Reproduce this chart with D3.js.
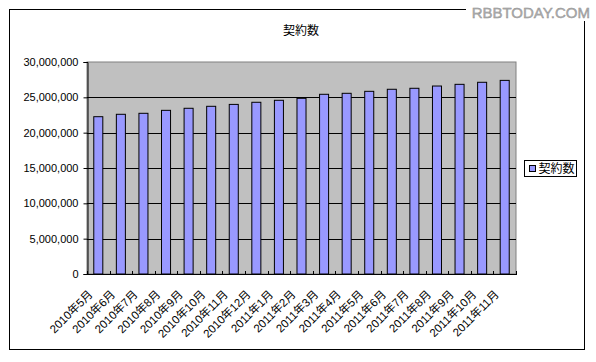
<!DOCTYPE html>
<html>
<head>
<meta charset="utf-8">
<script src="https://cdn.jsdelivr.net/npm/d3@7"></script>
<style>
  body { margin: 0; background: #fff; }
  text { font-family: Arial, "Liberation Sans", "Noto Sans CJK JP", sans-serif; }
</style>
</head>
<body>
<div id="chart"></div>
<script>
// data
const months = [
  '2010年5月', '2010年6月', '2010年7月', '2010年8月', '2010年9月', '2010年10月',
  '2010年11月', '2010年12月', '2011年1月', '2011年2月', '2011年3月', '2011年4月',
  '2011年5月', '2011年6月', '2011年7月', '2011年8月', '2011年9月', '2011年10月', '2011年11月'
];
const contracts = [
  22260000, 22600000, 22740000, 23160000, 23450000, 23730000,
  24000000, 24300000, 24580000, 24860000, 25430000, 25570000,
  25850000, 26140000, 26280000, 26600000, 26840000, 27130000, 27400000
];
const yTicks = [0, 5000000, 10000000, 15000000, 20000000, 25000000, 30000000];
const seriesName = '契約数';

const width = 596;
const height = 362;
const plot = { left: 87, right: 516, top: 62, bottom: 274 };

const svg = d3.select('#chart').append('svg')
  .attr('width', width)
  .attr('height', height);

// outer frame
svg.append('rect')
  .attr('x', 9.5).attr('y', 9.5)
  .attr('width', 575).attr('height', 340)
  .attr('fill', '#fff')
  .attr('stroke', '#000');

const x = d3.scaleBand()
  .domain(months)
  .range([plot.left, plot.right])
  .paddingInner(0.6)
  .paddingOuter(0.3);

const y = d3.scaleLinear()
  .domain([0, 30000000])
  .range([plot.bottom, plot.top]);

// plot area
svg.append('rect')
  .attr('x', plot.left).attr('y', plot.top)
  .attr('width', plot.right - plot.left).attr('height', plot.bottom - plot.top)
  .attr('fill', '#c0c0c0')
  .attr('stroke', '#808080');

// gridlines
svg.append('g')
  .selectAll('line')
  .data(yTicks.filter(d => d > 0 && d < 30000000))
  .enter().append('line')
  .attr('x1', plot.left).attr('x2', plot.right)
  .attr('y1', d => Math.round(y(d)) + 0.5).attr('y2', d => Math.round(y(d)) + 0.5)
  .attr('stroke', '#000');

// bars
svg.append('g')
  .selectAll('rect')
  .data(contracts)
  .enter().append('rect')
  .attr('x', (d, i) => x(months[i]))
  .attr('y', d => y(d))
  .attr('width', x.bandwidth())
  .attr('height', d => y(0) - y(d))
  .attr('fill', '#9999ff')
  .attr('stroke', '#000')
  .attr('stroke-width', 1);

// y axis
const yAxis = d3.axisLeft(y)
  .tickValues(yTicks)
  .tickSize(4)
  .tickPadding(5)
  .tickFormat(d3.format(',d'));

svg.append('g')
  .attr('transform', `translate(${plot.left + 0.5},0)`)
  .call(yAxis)
  .call(g => g.select('.domain').attr('stroke', '#000'))
  .call(g => g.selectAll('text').attr('font-size', 11).attr('fill', '#000')
    .attr('font-family', 'Arial, "Liberation Sans", sans-serif'));

// x axis line + ticks between categories
const boundaries = d3.range(months.length + 1).map(i => plot.left + i * (plot.right - plot.left) / months.length);
svg.append('line')
  .attr('x1', plot.left).attr('x2', plot.right)
  .attr('y1', plot.bottom + 0.5).attr('y2', plot.bottom + 0.5)
  .attr('stroke', '#000');
svg.append('g')
  .selectAll('line')
  .data(boundaries)
  .enter().append('line')
  .attr('x1', d => Math.round(d) + 0.5).attr('x2', d => Math.round(d) + 0.5)
  .attr('y1', plot.bottom - 3).attr('y2', plot.bottom + 1)
  .attr('stroke', '#000');

// x labels (rotated)
svg.append('g')
  .selectAll('text')
  .data(months)
  .enter().append('text')
  .attr('transform', d => `translate(${x(d) + x.bandwidth() / 2 - 5},${plot.bottom + 21}) rotate(-45)`)
  .attr('text-anchor', 'end')
  .attr('font-size', 11.5)
  .attr('font-family', '"Noto Sans CJK JP", sans-serif')
  .attr('fill', '#000')
  .text(d => d);

// title
svg.append('text')
  .attr('x', 301).attr('y', 35)
  .attr('text-anchor', 'middle')
  .attr('font-size', 12)
  .attr('font-family', '"Noto Sans CJK JP", sans-serif')
  .text(seriesName);

// legend
const legend = svg.append('g').attr('transform', 'translate(524.5,160.5)');
legend.append('rect')
  .attr('width', 52).attr('height', 16)
  .attr('fill', '#fff').attr('stroke', '#000');
legend.append('rect')
  .attr('x', 5).attr('y', 5)
  .attr('width', 6).attr('height', 6)
  .attr('fill', '#9999ff').attr('stroke', '#000');
legend.append('text')
  .attr('x', 14).attr('y', 12.5)
  .attr('font-size', 12)
  .attr('font-family', '"Noto Sans CJK JP", sans-serif')
  .text(seriesName);

// watermark
svg.append('rect')
  .attr('x', 466).attr('y', 3).attr('width', 126).attr('height', 18)
  .attr('fill', '#fff');
svg.append('text')
  .attr('x', 590).attr('y', 18)
  .attr('text-anchor', 'end')
  .attr('font-size', 15)
  .attr('fill', '#b0b0b0')
  .attr('stroke', '#8a8a8a')
  .attr('stroke-width', 0.4)
  .text('RBBTODAY.COM');
</script>
</body>
</html>
